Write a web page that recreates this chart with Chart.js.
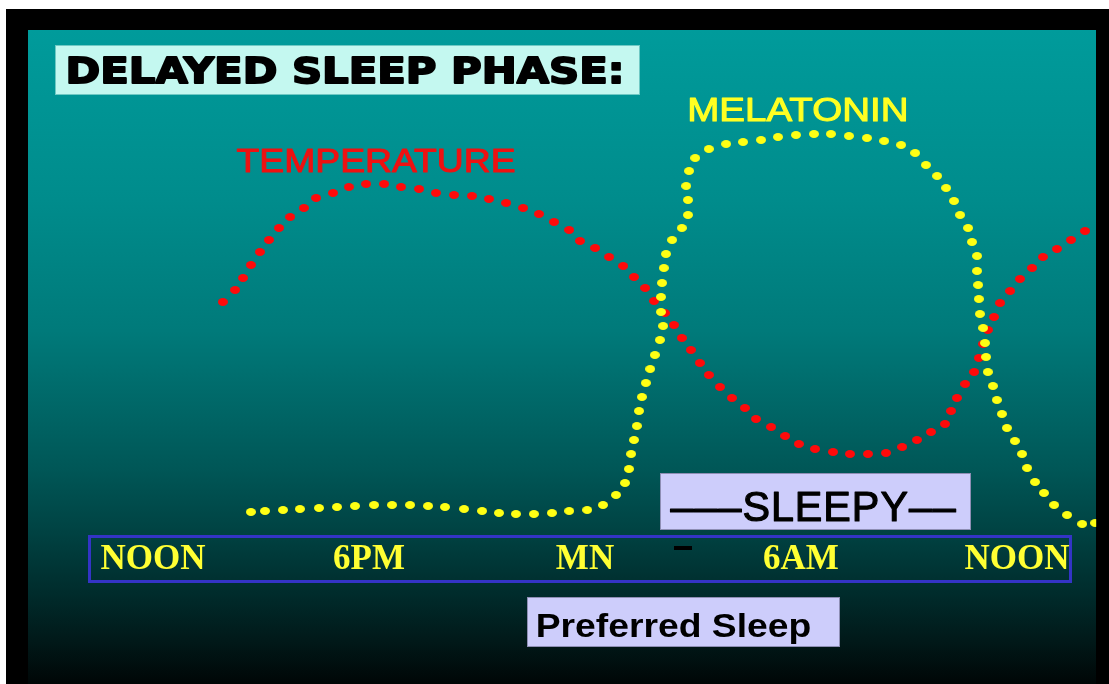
<!DOCTYPE html>
<html>
<head>
<meta charset="utf-8">
<title>Delayed Sleep Phase</title>
<script src="https://cdn.jsdelivr.net/npm/chart.js@4.4.0/dist/chart.umd.min.js"></script>
<style>
  html, body { margin: 0; padding: 0; background: #fff; }
  #wrap { width: 1109px; height: 684px; }
</style>
</head>
<body>
<div id="wrap"><canvas id="sleep"></canvas></div>
<script>
// clock hours: 12 = noon, 24 = midnight, 36 = next noon
var tickHours = [12, 18, 24, 30, 36];
var tickLabels = ["NOON", "6PM", "MN", "6AM", "NOON"];

// core body temperature, relative level 0-100
var tempHours = [13.94, 14.28, 14.5, 14.72, 14.97, 15.22, 15.5, 15.81, 16.19, 16.53,
  17.0, 17.44, 17.92, 18.42, 18.89, 19.39, 19.86, 20.36, 20.86, 21.33,
  21.81, 22.28, 22.72, 23.14, 23.56, 23.86, 24.28, 24.67, 25.06, 25.36,
  25.67, 25.92, 26.22, 26.47, 26.69, 26.94, 27.19, 27.44, 27.75, 28.08,
  28.44, 28.75, 29.17, 29.56, 29.94, 30.39, 30.89, 31.36, 31.86, 32.36,
  32.81, 33.22, 33.61, 34.0, 34.17, 34.33, 34.56, 34.81, 34.94, 35.06,
  35.19, 35.36, 35.53, 35.81, 36.08, 36.42, 36.72, 37.11, 37.5, 37.89];
var tempLevels = [45.6, 48, 50.4, 53, 55.6, 58, 60.4, 62.6, 64.4, 66.4,
  67.4, 68.6, 69.2, 69.2, 68.6, 68.2, 67.4, 67, 66.8, 66.2,
  65.4, 64.4, 63.2, 61.6, 60, 57.8, 56.4, 54.6, 52.8, 50.6,
  48.4, 45.8, 43.4, 41, 38.4, 36, 33.4, 31, 28.6, 26.4,
  24.4, 22.2, 20.6, 18.8, 17.2, 16.2, 15.6, 15.2, 15.2, 15.4,
  16.6, 18, 19.6, 21.2, 23.8, 26.4, 29.2, 31.6, 34.4, 37.2,
  40, 42.6, 45.4, 47.8, 50.2, 52.4, 54.6, 56.2, 58, 59.8];

// melatonin, relative level 0-100
var melHours = [14.72, 15.11, 15.61, 16.08, 16.61, 17.11, 17.61, 18.14, 18.64, 19.14,
  19.64, 20.11, 20.64, 21.14, 21.61, 22.08, 22.58, 23.08, 23.56, 24.06,
  24.5, 24.86, 25.11, 25.22, 25.28, 25.36, 25.44, 25.5, 25.58, 25.69,
  25.81, 25.94, 26.08, 26.17, 26.11, 26.11, 26.14, 26.19, 26.25, 26.42,
  26.69, 26.86, 26.86, 26.81, 26.89, 27.06, 27.44, 27.92, 28.39, 28.89,
  29.36, 29.86, 30.36, 30.83, 31.33, 31.83, 32.31, 32.78, 33.17, 33.47,
  33.78, 34.03, 34.25, 34.42, 34.64, 34.75, 34.89, 34.89, 34.92, 34.94,
  34.97, 35.06, 35.11, 35.14, 35.19, 35.33, 35.44, 35.58, 35.72, 35.94,
  36.14, 36.28, 36.5, 36.75, 37.03, 37.39, 37.81, 38.17];
var melLevels = [3.6, 3.8, 4.0, 4.2, 4.4, 4.6, 4.8, 5.0, 5.0, 5.0,
  4.8, 4.6, 4.2, 3.8, 3.4, 3.2, 3.2, 3.4, 3.8, 4.0,
  5.0, 7.0, 9.4, 12.2, 15.2, 18.0, 20.8, 23.8, 26.6, 29.4,
  32.2, 35.0, 38.0, 40.8, 43.6, 46.6, 49.4, 52.4, 55.2, 58.0,
  60.4, 63.0, 66.0, 68.8, 71.8, 74.4, 76.2, 77.2, 77.6, 78.0,
  78.6, 79.0, 79.2, 79.2, 78.8, 78.4, 77.8, 77.0, 75.4, 73.0,
  70.8, 68.4, 65.8, 63.0, 60.4, 57.6, 54.8, 51.8, 49.0, 46.2,
  43.2, 40.4, 37.4, 34.6, 31.6, 28.8, 26.0, 23.2, 20.4, 17.8,
  15.2, 12.4, 9.6, 7.4, 5.0, 3.0, 1.2, 1.4];

function toPoints(xs, ys) {
  return xs.map(function (x, i) {
    return { x: x, y: ys[i] };
  });
}

// slightly wide dot, like the slide's dotted lines
function dot(color) {
  var c = document.createElement("canvas");
  c.width = 10;
  c.height = 8;
  var g = c.getContext("2d");
  g.fillStyle = color;
  g.beginPath();
  g.ellipse(5, 4, 5, 4, 0, 0, Math.PI * 2);
  g.fill();
  return c;
}

// draw text so its ink runs from x0 to x1 on the given baseline
function fitText(ctx, text, x0, x1, baseline, font, color, weight, spacing) {
  ctx.save();
  ctx.font = font;
  if (spacing) ctx.letterSpacing = spacing;
  var m = ctx.measureText(text);
  var ink = m.actualBoundingBoxLeft + m.actualBoundingBoxRight + (weight || 0);
  var s = (x1 - x0) / ink;
  ctx.textAlign = "left";
  ctx.textBaseline = "alphabetic";
  ctx.fillStyle = color;
  ctx.translate(x0 + (m.actualBoundingBoxLeft + (weight || 0) / 2) * s, baseline);
  ctx.scale(s, 1);
  ctx.fillText(text, 0, 0);
  if (weight) {
    // thicken the strokes a little, the slide fonts are heavy
    ctx.strokeStyle = color;
    ctx.lineWidth = weight;
    ctx.lineJoin = "round";
    ctx.strokeText(text, 0, 0);
  }
  ctx.restore();
}

function labelBox(ctx, x, y, w, h, fill, edge) {
  ctx.save();
  ctx.fillStyle = fill;
  ctx.fillRect(x, y, w, h);
  ctx.strokeStyle = edge;
  ctx.lineWidth = 1;
  ctx.strokeRect(x + 0.5, y + 0.5, w - 1, h - 1);
  ctx.restore();
}

var slide = {
  id: "slide",
  beforeDraw: function (chart) {
    var ctx = chart.ctx;
    ctx.save();
    ctx.fillStyle = "#ffffff";
    ctx.fillRect(0, 0, chart.width, chart.height);
    ctx.fillStyle = "#000000";
    ctx.fillRect(6, 9, chart.width - 6, chart.height - 9);
    var g = ctx.createLinearGradient(0, 30, 0, 684);
    g.addColorStop(0, "#009b9b");
    g.addColorStop(0.26, "#008c8c");
    g.addColorStop(0.46, "#007a7a");
    g.addColorStop(0.67, "#005757");
    g.addColorStop(0.76, "#004444");
    g.addColorStop(0.86, "#002c2c");
    g.addColorStop(0.93, "#011a1a");
    g.addColorStop(1, "#000606");
    ctx.fillStyle = g;
    ctx.fillRect(28, 30, 1068, 654);
    // frame around the clock labels
    ctx.strokeStyle = "#3434c6";
    ctx.lineWidth = 3;
    ctx.strokeRect(89.5, 536.5, 981, 45);
    ctx.fillStyle = "#000000";
    ctx.fillRect(674, 546, 18, 4);
    ctx.restore();
  },
  afterDraw: function (chart) {
    var ctx = chart.ctx;
    labelBox(ctx, 55, 45, 585, 50, "#c4f8f0", "#6fc9c4");
    fitText(ctx, "DELAYED SLEEP PHASE:", 68, 622, 83, "bold 35px 'DejaVu Sans'", "#000000", 1.8);
    fitText(ctx, "TEMPERATURE", 236, 515, 172, "33px 'Liberation Sans'", "#ee1111", 1);
    fitText(ctx, "MELATONIN", 689, 907, 121, "33px 'Liberation Sans'", "#ffff22", 1);
    labelBox(ctx, 660, 473, 311, 57, "#cdcdfb", "#8e8eb4");
    fitText(ctx, "\u2013\u2013\u2013SLEEPY\u2013\u2013", 670, 957, 521, "42px 'Liberation Sans'", "#000000", 1.2, "1px");
    labelBox(ctx, 527, 597, 313, 50, "#cdcdfb", "#8e8eb4");
    fitText(ctx, "Preferred Sleep", 538, 810, 637, "bold 33px 'Liberation Sans'", "#000000");
  }
};

var chart = new Chart(document.getElementById("sleep"), {
  type: "scatter",
  data: {
    datasets: [{
      label: "Melatonin",
      data: toPoints(melHours, melLevels),
      pointStyle: dot("#ffff14"),
      pointRadius: 5,
      pointHoverRadius: 5,
      clip: { left: 10, top: 10, right: 0, bottom: 10 }
    }, {
      label: "Temperature",
      data: toPoints(tempHours, tempLevels),
      pointStyle: dot("#ff0a0a"),
      pointRadius: 5,
      pointHoverRadius: 5,
      clip: { left: 10, top: 10, right: 0, bottom: 10 }
    }]
  },
  options: {
    responsive: true,
    maintainAspectRatio: false,
    devicePixelRatio: 1,
    animation: false,
    events: [],
    layout: {
      padding: { left: 27, right: 12.8, top: 30, bottom: 0 }
    },
    plugins: {
      legend: { display: false },
      tooltip: { enabled: false }
    },
    scales: {
      x: {
        type: "linear",
        min: 8.5,
        max: 38.2,
        grid: { display: false, drawTicks: false },
        border: { display: false },
        afterBuildTicks: function (axis) {
          axis.ticks = tickHours.map(function (h) {
            return { value: h };
          });
        },
        afterFit: function (axis) {
          axis.height = 154;
        },
        ticks: {
          autoSkip: false,
          maxRotation: 0,
          padding: 9,
          color: "#ffff33",
          font: { family: "'Liberation Serif'", size: 35, weight: "bold" },
          callback: function (value, index) {
            return tickLabels[index];
          }
        }
      },
      y: {
        display: false,
        min: 0,
        max: 100
      }
    }
  },
  plugins: [slide]
});
</script>
</body>
</html>
